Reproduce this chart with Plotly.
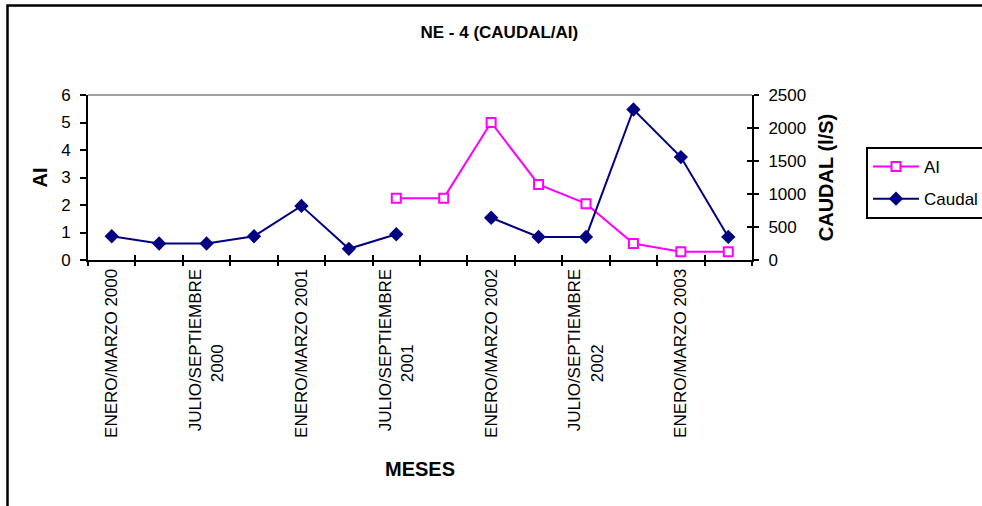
import plotly.graph_objects as go

# Trimestres del periodo de muestreo
periodos = [
    "ENERO/MARZO 2000", "ABRIL/JUNIO 2000", "JULIO/SEPTIEMBRE 2000", "OCTUBRE/DICIEMBRE 2000",
    "ENERO/MARZO 2001", "ABRIL/JUNIO 2001", "JULIO/SEPTIEMBRE 2001", "OCTUBRE/DICIEMBRE 2001",
    "ENERO/MARZO 2002", "ABRIL/JUNIO 2002", "JULIO/SEPTIEMBRE 2002", "OCTUBRE/DICIEMBRE 2002",
    "ENERO/MARZO 2003", "ABRIL/JUNIO 2003",
]

# Índice AI (eje izquierdo)
ai = [None, None, None, None, None, None, 2.25, 2.25, 5.0, 2.75, 2.05, 0.6, 0.3, 0.3]

# Caudal en l/s (eje derecho)
caudal = [360, 250, 250, 360, 820, 170, 390, None, 640, 350, 350, 2280, 1560, 350]

# Etiquetas visibles del eje X (una de cada dos)
etiquetas = [
    ("ENERO/MARZO 2000",), None, ("JULIO/SEPTIEMBRE", "2000"), None,
    ("ENERO/MARZO 2001",), None, ("JULIO/SEPTIEMBRE", "2001"), None,
    ("ENERO/MARZO 2002",), None, ("JULIO/SEPTIEMBRE", "2002"), None,
    ("ENERO/MARZO 2003",), None,
]

NBSP = "\u00a0"


def texto_tick(partes):
    if partes is None:
        return ""
    if len(partes) == 1:
        return partes[0]
    # second line pushed toward the centre of the first one
    return partes[0] + "<br>" + partes[1] + NBSP * 16


ticktext = [texto_tick(p) for p in etiquetas]

FONT = "Liberation Sans, Arial, sans-serif"
MAGENTA = "#FF00FF"
NAVY = "#000080"

fig = go.Figure()

fig.add_trace(go.Scatter(
    x=periodos, y=ai, name="AI", mode="lines+markers",
    line=dict(color=MAGENTA, width=2),
    marker=dict(symbol="square", size=9, color="white",
                line=dict(color=MAGENTA, width=2)),
    legendgroup="ai", yaxis="y",
))
fig.add_trace(go.Scatter(
    x=periodos, y=caudal, name="Caudal", mode="lines+markers",
    line=dict(color=NAVY, width=2),
    marker=dict(symbol="diamond", size=11, color=NAVY),
    connectgaps=False, legendgroup="caudal", yaxis="y2",
))
# empty helpers so the tick-only overlay axes get drawn
fig.add_trace(go.Scatter(x=[periodos[0]], y=[None], xaxis="x3", yaxis="y",
                         showlegend=False, hoverinfo="skip"))
fig.add_trace(go.Scatter(x=[periodos[0]], y=[None], xaxis="x", yaxis="y3",
                         showlegend=False, hoverinfo="skip"))

cat_axis = dict(
    type="category", categoryorder="array", categoryarray=periodos,
    range=[-0.5, len(periodos) - 0.5], tickmode="array", tickvals=periodos,
    tickson="boundaries", ticklen=5, tickwidth=2, tickcolor="black",
    showgrid=False, zeroline=False,
)

fig.update_layout(
    width=982, height=506,
    margin=dict(l=88, r=230, t=95, b=246, autoexpand=False),
    paper_bgcolor="white", plot_bgcolor="white",
    font=dict(family=FONT, size=17, color="black"),
    title=dict(text="<b>NE - 4 (CAUDAL/AI)</b>", x=0.5085, xref="container",
               xanchor="center", y=1 - 32 / 506, yref="container", yanchor="middle",
               font=dict(size=17)),
    xaxis=dict(
        **cat_axis, ticks="inside", ticktext=ticktext, tickangle=-90,
        showline=True, linecolor="black", linewidth=2,
        title=dict(text="<b>MESES</b>", standoff=25),
        tickfont=dict(size=17),
    ),
    xaxis3=dict(**cat_axis, ticks="outside", overlaying="x", anchor="y",
                showticklabels=False, showline=False),
    yaxis=dict(
        range=[0, 6], dtick=1, ticks="outside", ticklen=6, tickwidth=2,
        tickcolor="black", showline=True, linecolor="black", linewidth=2,
        showgrid=False, zeroline=False, ticklabelstandoff=6,
        title=dict(text="<b>AI</b>", standoff=8),
    ),
    yaxis2=dict(
        range=[0, 2500], dtick=500, ticks="outside", ticklen=5, tickwidth=2,
        tickcolor="black", showline=True, linecolor="black", linewidth=2,
        showgrid=False, zeroline=False, overlaying="y", side="right",
        anchor="x", ticklabelstandoff=6,
        title=dict(text="<b>CAUDAL (l/S)</b>", standoff=14),
    ),
    yaxis3=dict(
        range=[0, 2500], dtick=500, ticks="inside", ticklen=5, tickwidth=2,
        tickcolor="black", showline=False, showgrid=False, zeroline=False,
        overlaying="y", side="right", anchor="x", showticklabels=False,
    ),
    legend=dict(
        x=(866 - 88) / 664, y=(260 - 147) / 165, xanchor="left", yanchor="top",
        bordercolor="black", borderwidth=2, bgcolor="white",
        font=dict(size=17), itemwidth=46, tracegroupgap=7,
        traceorder="grouped",
    ),
    shapes=[
        # grey top border of the plot area
        dict(type="line", xref="paper", yref="paper", x0=0, x1=1, y0=1, y1=1,
             line=dict(color="#808080", width=1.5)),
        # outer chart frame
        dict(type="rect", xref="paper", yref="paper",
             x0=(7.5 - 88) / 664, x1=(995 - 88) / 664,
             y0=(260 - 520) / 165, y1=(260 - 5.5) / 165,
             line=dict(color="black", width=2.5), layer="below"),
    ],
    showlegend=True,
)

fig.write_html("out.html")
